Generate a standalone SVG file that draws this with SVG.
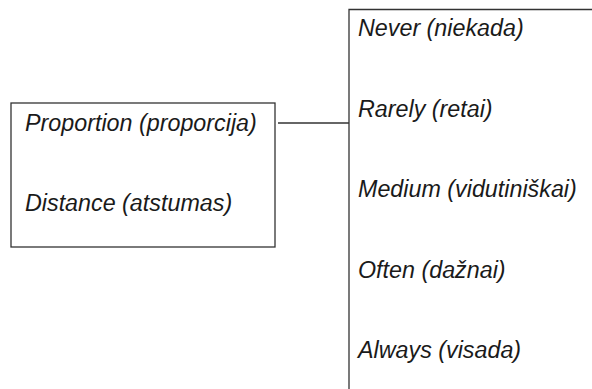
<svg xmlns="http://www.w3.org/2000/svg" width="592" height="389" viewBox="0 0 592 389">
<style>
.t{font-family:"Liberation Sans",Arial,sans-serif;font-style:italic;font-size:23.3px;fill:#1a1a1a}
.b{fill:none;stroke:#333;stroke-width:1.3}
</style>
<rect width="592" height="389" fill="#fff"/>
<g id="factors">
<rect class="b" x="11" y="103" width="264" height="144"/>
<text class="t" x="25" y="131">Proportion (proporcija)</text>
<text class="t" x="25" y="211">Distance (atstumas)</text>
</g>
<g id="scale">
<path class="b" d="M349 389 V9.5 H592"/>
<text class="t" x="358" y="36">Never (niekada)</text>
<text class="t" x="358" y="117">Rarely (retai)</text>
<text class="t" x="358" y="197">Medium (vidutiniškai)</text>
<text class="t" x="358" y="278">Often (dažnai)</text>
<text class="t" x="358" y="358">Always (visada)</text>
</g>
<g id="connectors">
<line class="b" x1="278" y1="123" x2="349" y2="123"/>
</g>
</svg>
